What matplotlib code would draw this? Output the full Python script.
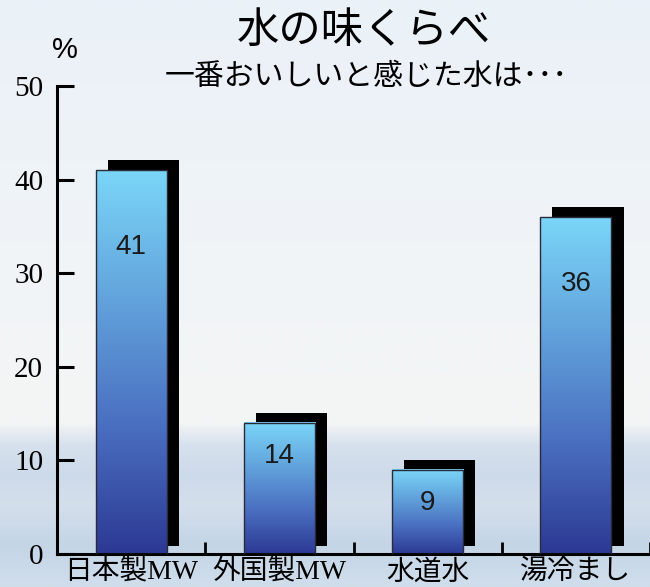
import numpy as np
import matplotlib
matplotlib.use("Agg")
import matplotlib.pyplot as plt
from matplotlib.colors import LinearSegmentedColormap
from matplotlib.patches import Rectangle

# -----------------------------
# DATA
# -----------------------------
categories = ["日本製MW", "外国製MW", "水道水", "湯冷まし"]
values = [41, 14, 9, 36]
y_ticks = [0, 10, 20, 30, 40, 50]

title = "水の味くらべ"
subtitle = "一番おいしいと感じた水は･･･"

# -----------------------------
# STYLE
# -----------------------------
serif_cjk = ["Liberation Serif", "Noto Sans CJK JP"]
cjk = ["Noto Sans CJK JP", "DejaVu Sans"]

bar_cmap = LinearSegmentedColormap.from_list(
    "bar", ["#2c3994", "#4a6fc0", "#62a3dc", "#7ad6f8"])

# background (sky + sea) gradient, top -> bottom
bg_stops = [0.0, 0.55, 0.72, 0.76, 0.81, 0.86, 0.93, 1.0]
bg_cols = [(234, 241, 248), (242, 245, 247), (244, 245, 245), (214, 225, 237),
           (205, 218, 233), (212, 223, 236), (196, 213, 230), (208, 222, 236)]

fig = plt.figure(figsize=(6.5, 5.87), dpi=100)

# background image
bg_ax = fig.add_axes([0, 0, 1, 1], zorder=-10)
yy = np.linspace(0, 1, 300)
rgb = np.array([np.interp(yy, bg_stops, [c[i] for c in bg_cols]) for i in range(3)]).T / 255
bg_ax.imshow(rgb[:, None, :], aspect="auto", extent=[0, 1, 1, 0])
bg_ax.set_xlim(0, 1)
bg_ax.set_ylim(1, 0)
bg_ax.axis("off")

ax = fig.add_axes([57 / 650, 33 / 587, 1 - 57 / 650, (554 - 86) / 587])
ax.patch.set_alpha(0)

x = np.arange(len(categories))
w = 0.48
dx, dy_top, dy_bot = 0.082, 1.07, 0.85  # shadow offsets

# shadows
for xi, v in zip(x, values):
    ax.add_patch(Rectangle((xi - w / 2 + dx, dy_bot), w, v + dy_top - dy_bot,
                           facecolor="black", edgecolor="none", zorder=1))

# gradient bars
grad = np.linspace(0, 1, 256)[:, None]
for xi, v in zip(x, values):
    ax.imshow(grad, cmap=bar_cmap, aspect="auto", origin="lower",
              extent=[xi - w / 2, xi + w / 2, 0, v], zorder=2)
    ax.add_patch(Rectangle((xi - w / 2, 0), w, v, facecolor="none",
                           edgecolor="#2a2a3a", linewidth=1.0, zorder=3))
    ly = min(v - 3.5, 0.8 * v)
    ax.text(xi, ly, str(v), ha="center", va="center", fontsize=20,
            family="Liberation Sans", color="#1a1a1a", zorder=4)

ax.set_xlim(-0.5, 3.5)
ax.set_ylim(0, 50)

for s in ["top", "right"]:
    ax.spines[s].set_visible(False)
ax.spines["left"].set_linewidth(2.2)
ax.spines["bottom"].set_linewidth(2.2)

ax.set_yticks(y_ticks)
ax.set_yticklabels([str(t) for t in y_ticks], family="Liberation Serif", fontsize=21)
ax.tick_params(axis="y", direction="in", length=12, width=2.2, pad=10)

ax.set_xticks(x)
ax.set_xticklabels(categories, fontsize=20, family=serif_cjk)
ax.tick_params(axis="x", which="major", length=0, pad=4)
ax.set_xticks([0.5, 1.5, 2.5, 3.5], minor=True)
ax.tick_params(axis="x", which="minor", direction="in", length=9, width=2)

# titles
fig.text(0.56, 0.947, title, ha="center", va="center", fontsize=30.5, family=cjk)
fig.text(0.563, 0.869, subtitle, ha="center", va="center", fontsize=21.5, family=cjk)
fig.text(0.1, 0.915, "%", ha="center", va="center", fontsize=21, family="Liberation Sans")

fig.savefig("out.png", dpi=100)
